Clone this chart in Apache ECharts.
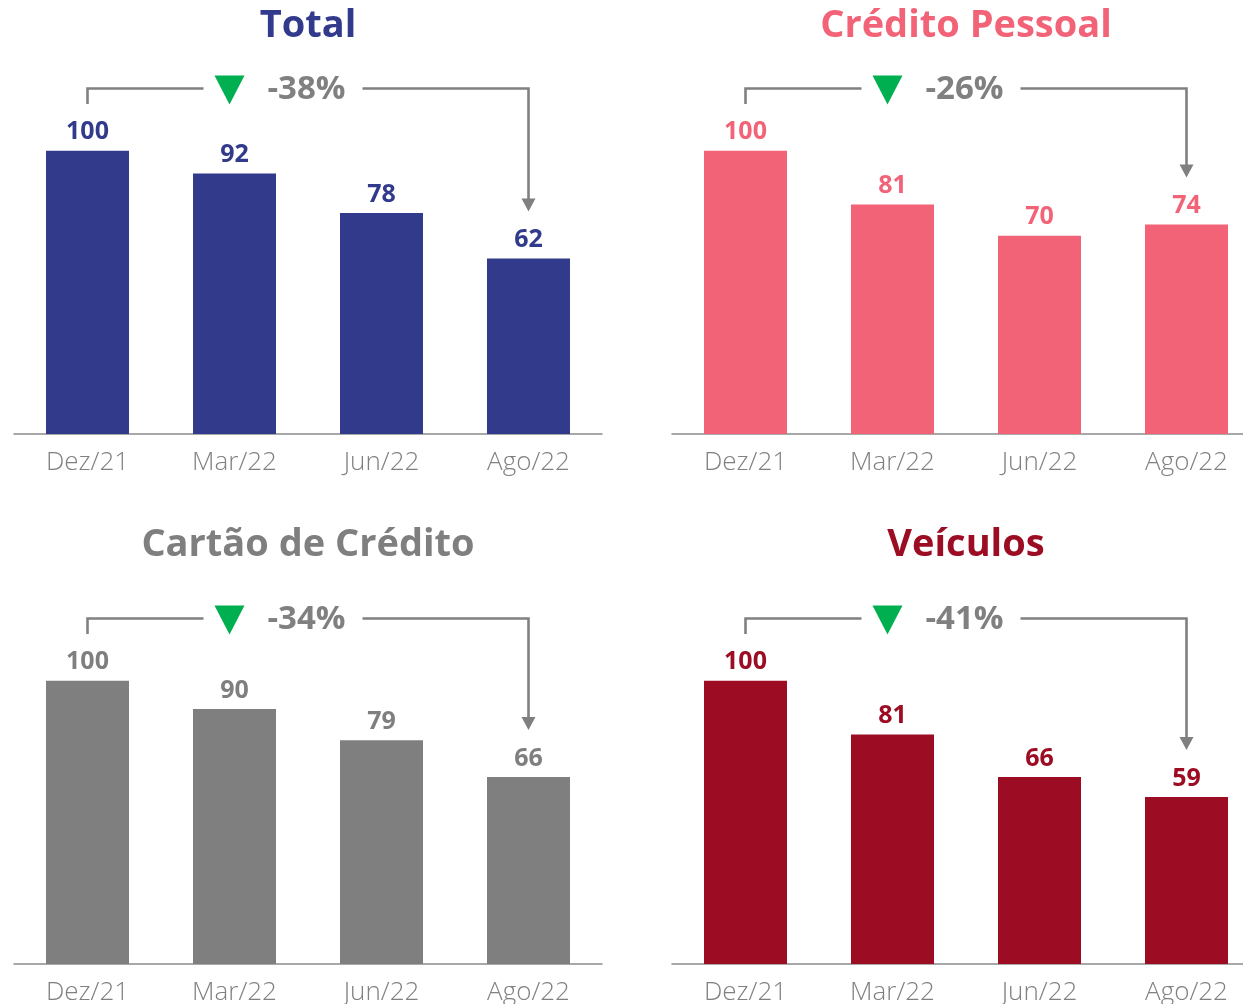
<!DOCTYPE html>
<html>
<head>
<meta charset="utf-8">
<script src="https://cdn.jsdelivr.net/npm/echarts@6/dist/echarts.min.js"></script>
<style>
html, body { margin: 0; padding: 0; background: #fff; }
#main { width: 1243px; height: 1004px; }
</style>
</head>
<body>
<div id="main"></div>
<script>
var categories = ['Dez/21', 'Mar/22', 'Jun/22', 'Ago/22'];
var titles = ['Total', 'Crédito Pessoal', 'Cartão de Crédito', 'Veículos'];
var totalValues = [100, 92, 78, 62];
var pessoalValues = [100, 81, 70, 74];
var cartaoValues = [100, 90, 79, 66];
var veiculosValues = [100, 81, 66, 59];
var changes = ['-38%', '-26%', '-34%', '-41%'];

var seriesData = [totalValues, pessoalValues, cartaoValues, veiculosValues];
var colors = ['#323a8c', '#f26378', '#7f7f7f', '#9c0d24'];
var FONT = 'Open Sans';
var GRAY = '#808080';

// 2x2 panels, right column runs past the canvas edge like the original crop
var grids = [
    { left: 14, top: 80, width: 588, height: 354, outerBoundsMode: 'none' },
    { left: 672, top: 80, width: 588, height: 354, outerBoundsMode: 'none' },
    { left: 14, top: 610, width: 588, height: 354, outerBoundsMode: 'none' },
    { left: 672, top: 610, width: 588, height: 354, outerBoundsMode: 'none' }
];
var titleCenters = [308, 966, 308, 966];
var titleTops = [7, 7, 526, 526];

var chart = echarts.init(document.getElementById('main'), null, { renderer: 'canvas' });

var option = {
    animation: false,
    backgroundColor: '#fff',
    title: titles.map(function (t, i) {
        return {
            text: t,
            left: titleCenters[i],
            top: titleTops[i],
            padding: 0,
            textAlign: 'center',
            textStyle: {
                fontFamily: FONT,
                fontWeight: 'bold',
                fontSize: 38,
                color: colors[i]
            }
        };
    }),
    grid: grids,
    xAxis: grids.map(function (g, i) {
        return {
            type: 'category',
            gridIndex: i,
            data: categories,
            axisTick: { show: false },
            axisLine: { lineStyle: { color: '#8c8c8c', width: 1.5 } },
            axisLabel: {
                color: GRAY,
                fontFamily: FONT,
                fontWeight: 300,
                fontSize: 26,
                margin: 16
            }
        };
    }),
    yAxis: grids.map(function (g, i) {
        return {
            type: 'value',
            gridIndex: i,
            min: 0,
            max: 125,
            show: false,
            splitLine: { show: false }
        };
    }),
    series: seriesData.map(function (vals, i) {
        return {
            type: 'bar',
            xAxisIndex: i,
            yAxisIndex: i,
            data: vals,
            barWidth: 83,
            itemStyle: { color: colors[i] },
            label: {
                show: true,
                position: 'top',
                distance: 6,
                color: colors[i],
                fontFamily: FONT,
                fontWeight: 'bold',
                fontSize: 25
            }
        };
    })
};
chart.setOption(option);

// bracket + arrow annotations, positioned from the axes
function buildBrackets() {
    var els = [];
    for (var i = 0; i < 4; i++) {
        var vals = seriesData[i];
        var x0 = chart.convertToPixel({ gridIndex: i }, [0, 0])[0];
        var x3 = chart.convertToPixel({ gridIndex: i }, [3, 0])[0];
        var yLevel = chart.convertToPixel({ gridIndex: i }, [0, 122])[1];
        var yTick = chart.convertToPixel({ gridIndex: i }, [0, 116.5])[1];
        var lastTop = chart.convertToPixel({ gridIndex: i }, [3, vals[3]])[1];
        var tip = lastTop - 47;
        var lineStyle = { stroke: GRAY, lineWidth: 2.6, fill: null };

        els.push({
            type: 'polyline',
            shape: { points: [[x0, yTick], [x0, yLevel], [x0 + 116, yLevel]] },
            style: lineStyle
        });
        els.push({
            type: 'polygon',
            shape: { points: [[x0 + 127, yLevel - 13], [x0 + 157, yLevel - 13], [x0 + 142, yLevel + 16]] },
            style: { fill: '#00b050' }
        });
        els.push({
            type: 'text',
            x: x0 + 219,
            y: yLevel + 1,
            style: {
                text: changes[i],
                fill: GRAY,
                font: 'bold 33px "' + FONT + '"',
                textAlign: 'center',
                textVerticalAlign: 'middle'
            }
        });
        els.push({
            type: 'polyline',
            shape: { points: [[x0 + 275, yLevel], [x3, yLevel], [x3, tip - 12]] },
            style: lineStyle
        });
        els.push({
            type: 'polygon',
            shape: { points: [[x3 - 7, tip - 13], [x3 + 7, tip - 13], [x3, tip]] },
            style: { fill: GRAY }
        });
    }
    chart.setOption({ graphic: els });
}
buildBrackets();
</script>
</body>
</html>
